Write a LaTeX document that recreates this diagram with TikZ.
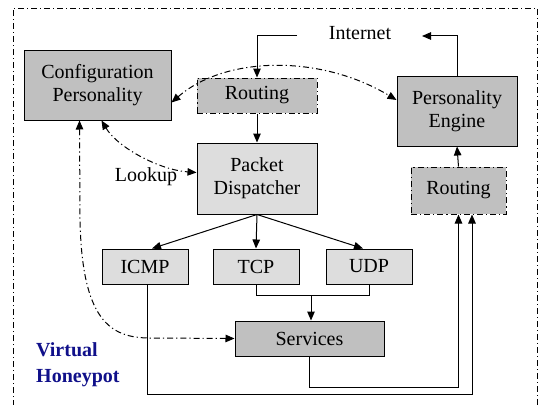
\documentclass[tikz,border=0pt]{standalone}
\usepackage{fontspec}
\setmainfont{Liberation Serif}
\usetikzlibrary{arrows.meta,calc}
\definecolor{darkbox}{RGB}{192,192,192}
\definecolor{lightbox}{RGB}{221,221,221}
\definecolor{navy}{RGB}{16,16,138}
\tikzset{
  box/.style={draw, line width=1pt, align=center, inner sep=0pt, font=\fontsize{20}{23}\selectfont},
  dbox/.style={box, fill=darkbox},
  lbox/.style={box, fill=lightbox},
  dd/.style={dash pattern=on 6pt off 3pt on 1.2pt off 3pt},
  rbox/.style={dbox, dd},
  arr/.style={-{Triangle[length=9pt,width=7.5pt]}, line width=1pt},
  darr/.style={{Triangle[length=9pt,width=7.5pt]}-{Triangle[length=9pt,width=7.5pt]}, line width=1pt, dd},
  txt/.style={inner sep=0pt, font=\fontsize{20}{23}\selectfont},
}
\begin{document}
\begin{tikzpicture}[x=1pt,y=-1pt]
\useasboundingbox (0,0) rectangle (543,404);
% outer border
\draw[line width=0.8pt, dash pattern=on 6pt off 3pt on 1pt off 3pt] (13,406) -- (13,8) -- (537,8) -- (537,406);

\node[dbox, minimum width=147pt, minimum height=69pt] (config) at (97.5,85.5) {Configuration\\Personality};
\node[rbox, minimum width=120pt, minimum height=35pt] (routing) at (257,95.5) {Routing};
\node[lbox, minimum width=120pt, minimum height=71pt] (pd) at (257,178.5) {Packet\\Dispatcher};
\node[dbox, minimum width=120pt, minimum height=70pt] (pe) at (457,111) {Personality\\Engine};
\node[rbox, minimum width=95pt, minimum height=47pt] (routing2) at (458.5,190.5) {Routing};
\node[lbox, minimum width=86pt, minimum height=35pt] (icmp) at (145,266.5) {ICMP};
\node[lbox, minimum width=86pt, minimum height=35pt] (tcp) at (256,266.5) {TCP};
\node[lbox, minimum width=86pt, minimum height=35pt] (udp) at (369,266.5) {UDP};
\node[dbox, minimum width=149pt, minimum height=35pt] (services) at (309.5,338.5) {Services};

\node[txt] (internet) at (360,33) {Internet};
\node[txt] (lookup) at (146,177) {Lookup};
\node[txt, anchor=north west, align=left, text=navy, font=\fontsize{20}{26}\selectfont\bfseries] (vh) at (36,342) {Virtual\\Honeypot};

% Internet connections
\coordinate (inL) at (297,36);
\draw[arr] (inL) -| (routing.north);
\coordinate (inR) at (422,36);
\draw[arr] (pe.north) |- (inR);
\draw[arr] (routing.south) -- (pd.north);
\draw[arr] (routing2.north) -- (pe.south);

% dispatcher
\draw[arr] (pd.south) -- ([xshift=7pt]icmp.north);
\draw[arr] (pd.south) -- (tcp.north);
\draw[arr] (pd.south) -- ([xshift=-6pt]udp.north);

% merge
\draw[line width=1pt] (tcp.south) -- ++(0,11) -| (udp.south);
\coordinate (merge) at (311,295);
\draw[arr] (merge) -- (merge |- services.north);

% returns
\coordinate (ic1) at (147,394);
\draw[arr] ([xshift=2pt]icmp.south) -- ([xshift=2pt]icmp.south |- ic1) -| ([xshift=13.5pt]routing2.south);
\coordinate (sv1) at (309.5,387);
\draw[arr] (services.south) -- (sv1) -| (routing2.south);

% dash-dot curves
\draw[darr] ([yshift=-17pt]config.east) .. controls (225,56) and (320,54) .. ([yshift=11pt]pe.west);
\draw[darr] ([xshift=4pt]config.south) .. controls (118,148) and (160,170) .. ([yshift=6pt]pd.west);
\draw[darr] ([xshift=56pt]config.south west) -- (80,220) .. controls (82,320) and (110,338) .. (150,338) -- (services.west);
\end{tikzpicture}
\end{document}
